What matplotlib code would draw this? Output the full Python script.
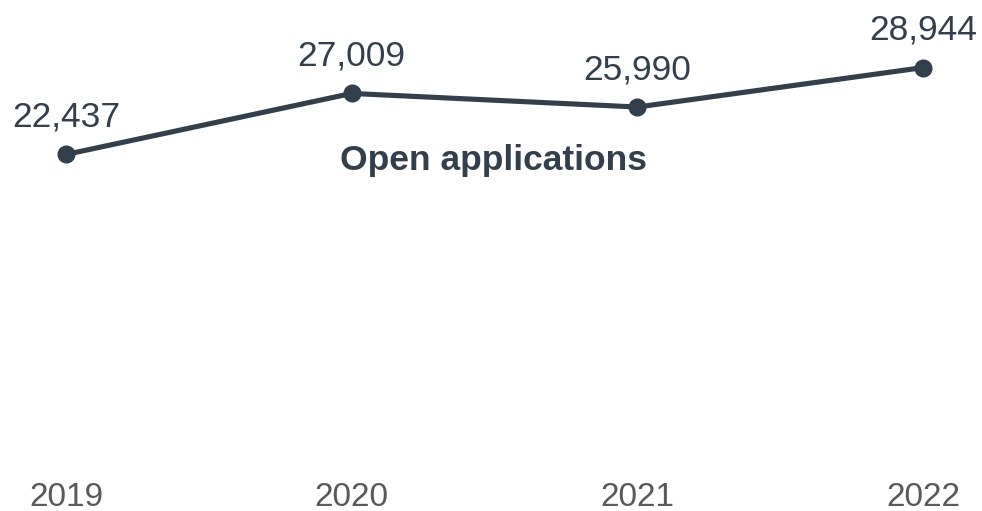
import matplotlib
matplotlib.use("Agg")
import matplotlib.pyplot as plt

years = [2019, 2020, 2021, 2022]
open_applications = [22437, 27009, 25990, 28944]
series_name = "Open applications"

line_color = "#333f4b"
tick_color = "#595959"

plt.rcParams['font.family'] = ['Liberation Sans', 'DejaVu Sans']

fig = plt.figure(figsize=(9.82, 5.11), dpi=100)
ax = fig.add_axes([0, (511 - 454) / 511, 1, 454 / 511])

ax.plot(years, open_applications, color=line_color, linewidth=3.7,
        marker='o', markersize=12, solid_capstyle='round')

for x, y in zip(years, open_applications):
    ax.annotate(f"{y:,}", (x, y), xytext=(0, 20), textcoords='offset points',
                ha='center', va='baseline', fontsize=25.5, color=line_color)

ax.text(2020.495, 21273, series_name, ha='center', va='baseline',
        fontsize=25.5, fontweight='bold', color=line_color)

ax.set_xlim(2019 - 66 / 285.7, 2022 + 59 / 285.7)
ax.set_ylim(0, 454 / 0.01335)
ax.set_xticks(years)
ax.set_xticklabels([str(y) for y in years])
ax.tick_params(axis='x', length=0, pad=20, labelsize=24, labelcolor=tick_color)
ax.set_yticks([])
for s in ax.spines.values():
    s.set_visible(False)

fig.savefig("out.png", dpi=100)
